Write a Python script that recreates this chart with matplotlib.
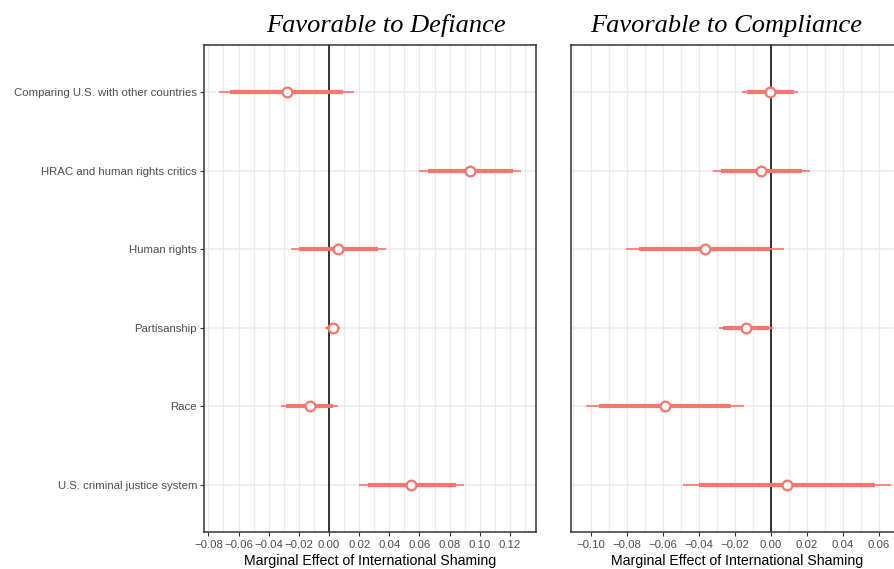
import numpy as np
import matplotlib.pyplot as plt
from matplotlib.ticker import MultipleLocator, FuncFormatter

# issue categories, top to bottom
issues = ["Comparing U.S. with other countries", "HRAC and human rights critics",
          "Human rights", "Partisanship", "Race", "U.S. criminal justice system"]

# Favorable to Defiance: point estimate, 90% and 95% intervals
def_est = [-0.0281, 0.0935, 0.0062, 0.0024, -0.0128, 0.0546]
def_lo90 = [-0.0656, 0.0654, -0.0199, -0.0010, -0.0285, 0.0257]
def_hi90 = [0.0095, 0.1218, 0.0327, 0.0060, 0.0029, 0.0840]
def_lo95 = [-0.0727, 0.0597, -0.0252, -0.0024, -0.0318, 0.0201]
def_hi95 = [0.0168, 0.1273, 0.0378, 0.0073, 0.0062, 0.0895]

# Favorable to Compliance
com_est = [-0.0006, -0.0056, -0.0365, -0.0139, -0.0589, 0.0089]
com_lo90 = [-0.0133, -0.0278, -0.0730, -0.0263, -0.0954, -0.0397]
com_hi90 = [0.0126, 0.0172, -0.0004, -0.0013, -0.0220, 0.0578]
com_lo95 = [-0.0160, -0.0322, -0.0804, -0.0289, -0.1026, -0.0489]
com_hi95 = [0.0150, 0.0215, 0.0072, 0.0011, -0.0150, 0.0667]

COL = "#F8766D"
W, H = 894, 569

plt.rcParams["font.family"] = ["Liberation Sans", "DejaVu Sans"]
fig = plt.figure(figsize=(W / 100, H / 100), dpi=100)


def fmt_tick(v, pos):
    v = round(v, 4) + 0.0
    return f"{v:.2f}".replace("-", "\u2212")


def panel(px_left, xlim, major, est, lo90, hi90, lo95, hi95, ylabels):
    ax = fig.add_axes([px_left / W, 37 / H, 332 / W, 487 / H])
    y = np.arange(len(issues))[::-1] + 1
    ax.hlines(y, lo95, hi95, color=COL, lw=1.2, zorder=3)
    ax.hlines(y, lo90, hi90, color=COL, lw=3.0, zorder=3)
    ax.plot(est, y, "o", ms=7, mfc="white", mec=COL, mew=1.6, zorder=4)
    ax.axvline(0, color="black", lw=1.1, zorder=2)
    ax.set_xlim(*xlim)
    ax.set_ylim(0.4, 6.6)
    ax.xaxis.set_major_locator(MultipleLocator(major))
    ax.xaxis.set_minor_locator(MultipleLocator(major / 2))
    ax.xaxis.set_major_formatter(FuncFormatter(fmt_tick))
    ax.set_yticks(y)
    ax.grid(True, which="both", axis="x", color="#EBEBEB", lw=0.9, zorder=0)
    ax.grid(True, which="major", axis="y", color="#EBEBEB", lw=1.1, zorder=0)
    ax.tick_params(axis="x", which="minor", length=0)
    ax.tick_params(axis="x", which="major", length=3, width=0.8, color="#333333",
                   labelsize=8.2, labelcolor="#4D4D4D", pad=2.5)
    if ylabels:
        ax.set_yticklabels(issues)
        ax.tick_params(axis="y", length=3, width=0.8, color="#333333",
                       labelsize=8.2, labelcolor="#4D4D4D", pad=2)
    else:
        ax.set_yticklabels([])
        ax.tick_params(axis="y", length=0)
    for s in ax.spines.values():
        s.set_color("#333333")
        s.set_linewidth(1.1)
    ax.set_xlabel("Marginal Effect of International Shaming", fontsize=10.2, labelpad=3.5)
    ax.set_axisbelow(True)
    return ax


panel(204, (-0.0829, 0.1373), 0.02, def_est, def_lo90, def_hi90, def_lo95, def_hi95, True)
panel(571, (-0.111, 0.0734), 0.02, com_est, com_lo90, com_hi90, com_lo95, com_hi95, False)

title_kw = dict(fontsize=19, style="italic", family=["Liberation Serif", "DejaVu Serif"],
                ha="center", va="baseline")
fig.text(386 / W, 1 - 32 / H, "Favorable to Defiance", **title_kw)
fig.text(726 / W, 1 - 32 / H, "Favorable to Compliance", **title_kw)

fig.savefig("out.png", dpi=100)
